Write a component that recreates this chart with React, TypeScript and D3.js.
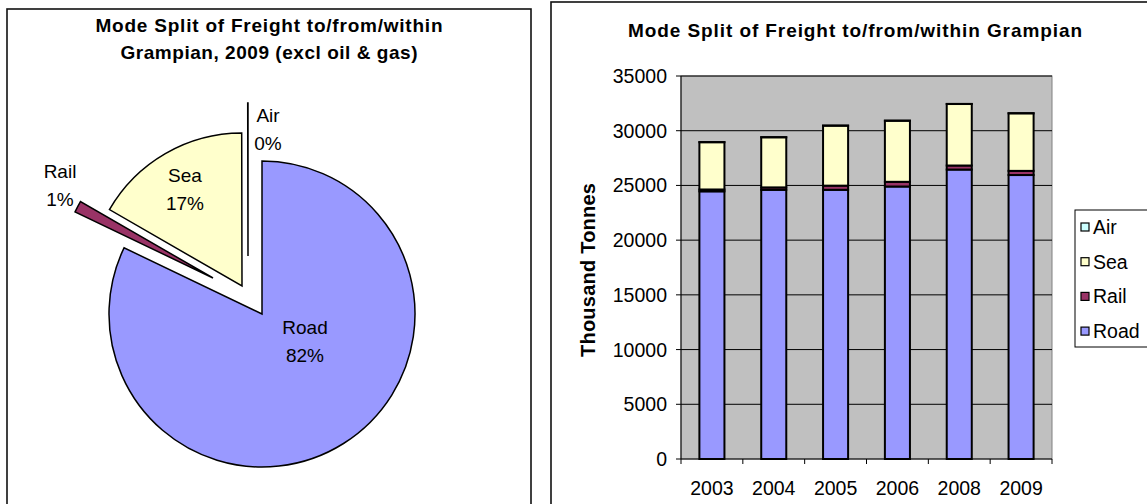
import React from "react";
import * as d3 from "d3";

// ---------- data ----------
const years = ["2003", "2004", "2005", "2006", "2008", "2009"];
const roadValues = [24460, 24600, 24600, 24900, 26450, 25950];
const railValues = [170, 220, 380, 430, 370, 380];
const seaValues = [4320, 4580, 5480, 5580, 5620, 5260];
const airValues = [10, 10, 10, 10, 10, 10];
const yTicks = [0, 5000, 10000, 15000, 20000, 25000, 30000, 35000];
const modes = ["Road", "Rail", "Sea", "Air"];
const legendModes = ["Air", "Sea", "Rail", "Road"];
const pieYearIndex = 5; // 2009

// ---------- style ----------
const FONT = "'Liberation Sans', Arial, Helvetica, sans-serif";
const COLORS: Record<string, string> = {
  Road: "#9999FF",
  Rail: "#993366",
  Sea: "#FFFFCC",
  Air: "#CCFFFF",
};
// explode offsets (pixels) per slice, label anchors relative to pie centre
const EXPLODE: Record<string, [number, number]> = {
  Road: [0, 0],
  Rail: [-49, -36],
  Sea: [-20, -28],
  Air: [-14, -58],
};
const LABEL_ANCHOR: Record<string, [number, number]> = {
  Road: [43, 27],
  Rail: [-202, -129],
  Sea: [-77, -125],
  Air: [6, -185],
};

const PIE_CX = 262;
const PIE_CY = 314;
const PIE_R = 153;

const PLOT = { left: 681, right: 1052, top: 76, bottom: 459 };

function PieChart() {
  const values = [
    roadValues[pieYearIndex],
    railValues[pieYearIndex],
    seaValues[pieYearIndex],
    airValues[pieYearIndex],
  ];
  const total = d3.sum(values);
  const pie = d3
    .pie<number>()
    .sort(null)
    .startAngle(0)
    .endAngle(Math.PI * 2)(values);
  const arc = d3.arc<d3.PieArcDatum<number>>().innerRadius(0).outerRadius(PIE_R);
  return (
    <g>
      <rect x={7} y={9} width={524} height={520} fill="#fff" stroke="#111" strokeWidth={1.6} />
      <text x={269} y={32} textAnchor="middle" fontFamily={FONT} fontWeight="bold" fontSize={19} textLength={347} lengthAdjust="spacing">
        Mode Split of Freight to/from/within
      </text>
      <text x={269} y={59} textAnchor="middle" fontFamily={FONT} fontWeight="bold" fontSize={19} textLength={297} lengthAdjust="spacing">
        Grampian, 2009 (excl oil &amp; gas)
      </text>
      {pie.map((p, i) => {
        const m = modes[i];
        const [dx, dy] = EXPLODE[m];
        return (
          <path
            key={m}
            d={arc(p) || ""}
            transform={`translate(${PIE_CX + dx},${PIE_CY + dy})`}
            fill={COLORS[m]}
            stroke="#000"
            strokeWidth={1.5}
            strokeLinejoin="miter"
          />
        );
      })}
      {pie.map((p, i) => {
        const m = modes[i];
        const [lx, ly] = LABEL_ANCHOR[m];
        const pct = Math.round((values[i] / total) * 100);
        const x = PIE_CX + lx;
        const y = PIE_CY + ly;
        return (
          <g key={"l" + m} fontFamily={FONT} fontSize={19} fill="#000" textAnchor="middle">
            <text x={x} y={y - 13.5} dominantBaseline="central">{m}</text>
            <text x={x} y={y + 14} dominantBaseline="central">{pct}%</text>
          </g>
        );
      })}
    </g>
  );
}

function BarChart() {
  const x = d3
    .scaleBand<string>()
    .domain(years)
    .range([PLOT.left, PLOT.right])
    .paddingInner(0.595)
    .paddingOuter(0.2975);
  const y = d3.scaleLinear().domain([0, 35000]).range([PLOT.bottom, PLOT.top]);
  const step = x.step();
  const seriesData = years.map((yr, i) => ({
    year: yr,
    Road: roadValues[i],
    Rail: railValues[i],
    Sea: seaValues[i],
    Air: airValues[i],
  }));
  const stack = d3.stack<any>().keys(modes)(seriesData);
  const catEdges = d3.range(years.length + 1).map((k) => PLOT.left + k * step);

  return (
    <g>
      <rect x={551} y={2} width={620} height={540} fill="#fff" stroke="#111" strokeWidth={1.6} />
      <text x={855} y={37} textAnchor="middle" fontFamily={FONT} fontWeight="bold" fontSize={19} textLength={454} lengthAdjust="spacing">
        Mode Split of Freight to/from/within Grampian
      </text>
      {/* plot area */}
      <rect
        x={PLOT.left}
        y={PLOT.top}
        width={PLOT.right - PLOT.left}
        height={PLOT.bottom - PLOT.top}
        fill="#C0C0C0"
        stroke="#808080"
        strokeWidth={1}
      />
      {yTicks.filter((t) => t > 0).map((t) => (
        <line key={"g" + t} x1={PLOT.left} x2={PLOT.right} y1={y(t)} y2={y(t)} stroke="#000" strokeWidth={1} />
      ))}
      {/* bars */}
      {stack.map((s) => (
        <g key={s.key}>
          {s.map((d, i) => (
            <rect
              key={i}
              x={x(years[i])}
              width={x.bandwidth()}
              y={y(d[1])}
              height={Math.max(0, y(d[0]) - y(d[1]))}
              fill={COLORS[s.key as string]}
              stroke="#000"
              strokeWidth={2}
            />
          ))}
        </g>
      ))}
      {/* axes */}
      <line x1={PLOT.left} x2={PLOT.left} y1={PLOT.top} y2={PLOT.bottom} stroke="#000" strokeWidth={1} />
      <line x1={PLOT.left} x2={PLOT.right} y1={PLOT.bottom} y2={PLOT.bottom} stroke="#000" strokeWidth={1} />
      {yTicks.map((t) => (
        <g key={"t" + t}>
          <line x1={PLOT.left - 5} x2={PLOT.left} y1={y(t)} y2={y(t)} stroke="#000" strokeWidth={1} />
          <text x={667} y={y(t)} textAnchor="end" dominantBaseline="central" fontFamily={FONT} fontSize={19.5}>
            {t}
          </text>
        </g>
      ))}
      {catEdges.map((cx, k) => (
        <line key={"xt" + k} x1={cx} x2={cx} y1={PLOT.bottom} y2={PLOT.bottom + 5} stroke="#000" strokeWidth={1} />
      ))}
      {years.map((yr) => (
        <text
          key={"xl" + yr}
          x={(x(yr) as number) + x.bandwidth() / 2}
          y={488}
          textAnchor="middle"
          dominantBaseline="central"
          fontFamily={FONT}
          fontSize={19.5}
        >
          {yr}
        </text>
      ))}
      <text
        transform="translate(588,270) rotate(-90)"
        textAnchor="middle"
        dominantBaseline="central"
        fontFamily={FONT}
        fontWeight="bold"
        fontSize={20}
        textLength={174}
        lengthAdjust="spacing"
      >
        Thousand Tonnes
      </text>
      {/* legend */}
      <rect x={1075} y={210} width={100} height={137} fill="#fff" stroke="#000" strokeWidth={1} />
      {legendModes.map((m, i) => {
        const cy = 227 + i * 34.7;
        return (
          <g key={"lg" + m}>
            <rect x={1081} y={cy - 4} width={8} height={8} fill={COLORS[m]} stroke="#000" strokeWidth={1.2} />
            <text x={1093} y={cy} dominantBaseline="central" fontFamily={FONT} fontSize={19.5}>
              {m}
            </text>
          </g>
        );
      })}
    </g>
  );
}

export default function App() {
  return (
    <svg
      width={1147}
      height={504}
      style={{ position: "absolute", left: 0, top: 0, background: "#fff" }}
    >
      <rect x={0} y={0} width={1147} height={504} fill="#fff" />
      <PieChart />
      <BarChart />
    </svg>
  );
}
